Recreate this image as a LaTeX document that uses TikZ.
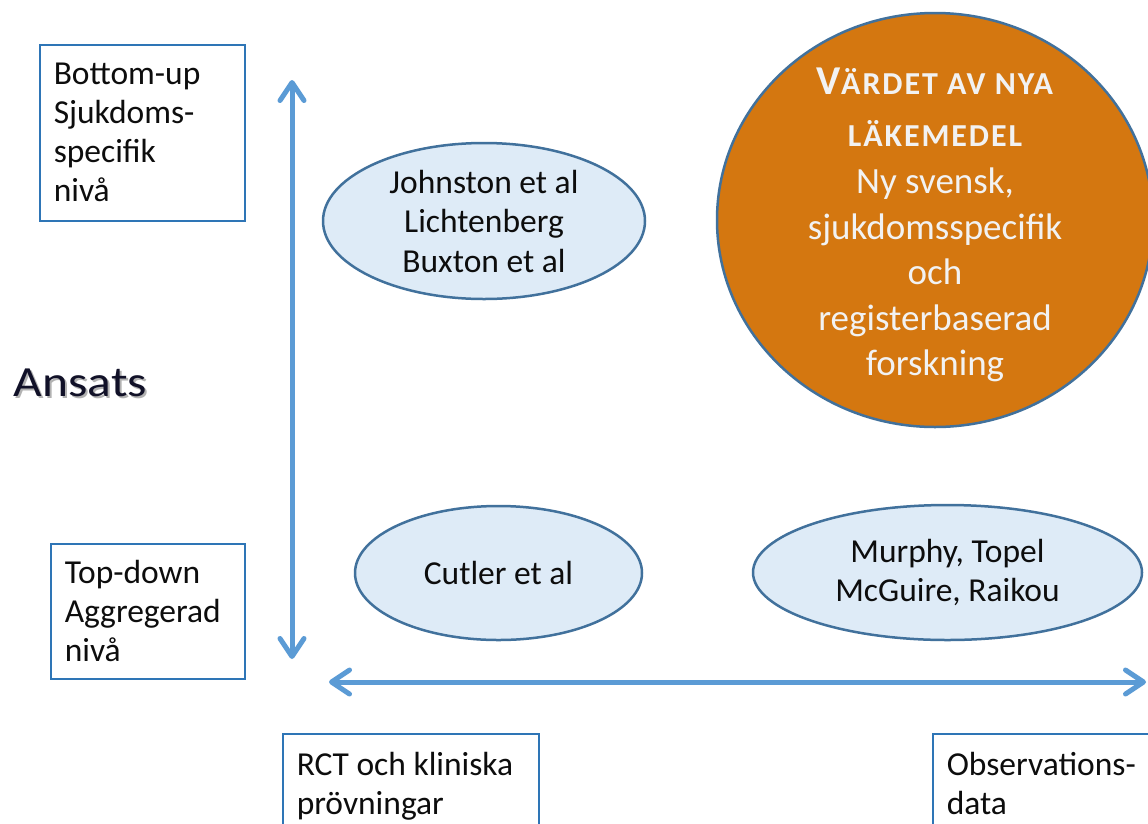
\documentclass[tikz,border=0pt]{standalone}
\usepackage{fontspec}
\usepackage{graphicx}
\setmainfont{Carlito}
\usetikzlibrary{arrows.meta,shapes.geometric}
\definecolor{boxblue}{HTML}{2E75B6}
\definecolor{arrowblue}{HTML}{5B9BD5}
\definecolor{ellfill}{HTML}{DEEBF7}
\definecolor{ellline}{HTML}{41719C}
\definecolor{orangefill}{HTML}{D47710}
\definecolor{txt}{HTML}{0D0D0D}
\definecolor{ansatscol}{HTML}{111128}
\definecolor{circtxt}{HTML}{F2F2F2}
\newcommand{\scfont}{\fontsize{32}{45.5}\selectfont\addfontfeatures{LetterSpace=6}}
\begin{document}
\begin{tikzpicture}[x=1pt,y=-1pt,
  lbl/.style={draw=boxblue, line width=1.5pt, text=txt, align=flush left,
    font=\fontsize{33.5}{39}\selectfont, inner xsep=14pt, inner ysep=0pt, anchor=north west},
  ell/.style={ellipse, draw=ellline, fill=ellfill, line width=2.5pt, inner sep=0pt},
  etxt/.style={text=txt, align=center, font=\fontsize{33.5}{39.5}\selectfont, inner sep=0pt},
  axisline/.style={draw=arrowblue, line width=5pt,
    {Straight Barb[length=18pt,width=24pt,round]}-{Straight Barb[length=18pt,width=24pt,round]}}]
\useasboundingbox (0,0) rectangle (1148,823);
\clip (0,0) rectangle (1148,823);
\fill[white] (0,0) rectangle (1148,823);

% side labels
\node[lbl, minimum width=205pt, minimum height=176pt, text width=177pt] (bu) at (39,44)
  {Bottom-up\\Sjukdoms-\\specifik\\nivå};
\node[lbl, minimum width=194pt, minimum height=135pt, text width=166pt] (td) at (50,543)
  {Top-down\\Aggregerad\\nivå};

% Ansats with shadow
\node[text=black!30, font=\fontsize{43}{50}\selectfont, inner sep=0pt] (ansh) at (82.5,385) {\scalebox{1.15}[1]{Ansats}};
\node[text=ansatscol, font=\fontsize{43}{50}\selectfont, inner sep=0pt] (ans) at (80.5,383) {\scalebox{1.15}[1]{Ansats}};

% axes
\coordinate (vtop) at (292,80);
\coordinate (vbot) at (292,659);
\coordinate (hl) at (329,682);
\coordinate (hr) at (1146,682);
\draw[axisline] (vbot) -- (vtop);
\draw[axisline] (hl) -- (hr);

% ellipses
\node[ell, minimum width=322pt, minimum height=156pt] (e1) at (484,221) {};
\node[etxt] (t1) at (e1.center) {Johnston et al\\Lichtenberg\\Buxton et al};
\node[ell, minimum width=287pt, minimum height=134pt] (e2) at (498.5,573) {};
\node[etxt] (t2) at (e2.center) {Cutler et al};
\node[ell, minimum width=389pt, minimum height=135pt] (e3) at (947.5,572.5) {};
\node[etxt] (t3) at (e3.center) {Murphy, Topel\\McGuire, Raikou};

% orange circle
\node[ellipse, draw=ellline, fill=orangefill, line width=2.5pt, inner sep=0pt,
  minimum width=436pt, minimum height=414pt] (oc) at (935,220) {};
\node[text=circtxt, align=center, inner sep=0pt, font=\fontsize{37}{45.5}\selectfont] (ot) at (935,225)
  {\bfseries{\fontsize{41}{45.5}\selectfont V}{\scfont ÄRDET AV NYA}\\[6pt]
   \bfseries{\scfont LÄKEMEDEL}\\[2pt]
   Ny svensk,\\sjukdomsspecifik\\och\\registerbaserad\\forskning};

% bottom labels
\node[lbl, minimum width=256pt, minimum height=110pt, text width=228pt, text depth=50pt] (rct) at (282,733)
  {RCT och kliniska\\prövningar};
\node[lbl, minimum width=230pt, minimum height=110pt, text width=202pt, text depth=50pt] (obs) at (932,733)
  {Observations-\\data};
\end{tikzpicture}
\end{document}
